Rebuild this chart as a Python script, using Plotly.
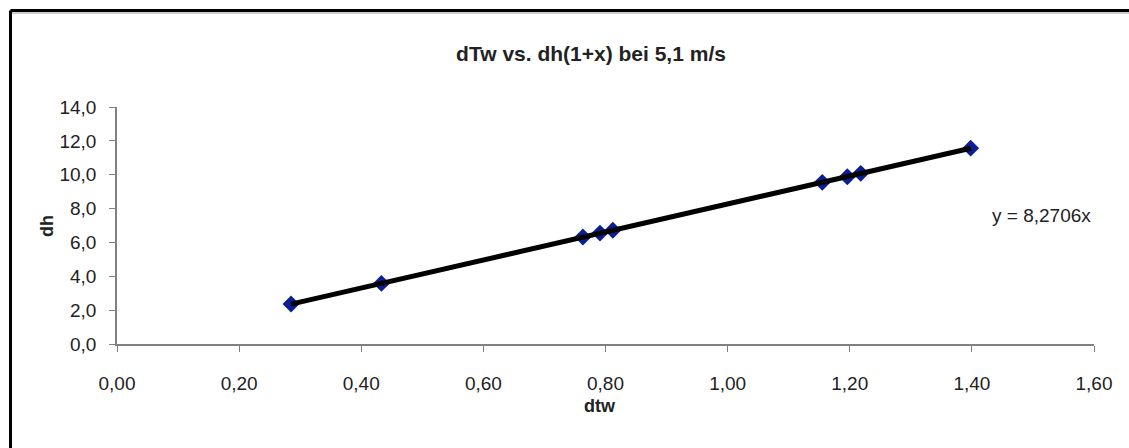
import plotly.graph_objects as go

# data
dtw = [0.285, 0.433, 0.763, 0.791, 0.812, 1.155, 1.196, 1.218, 1.398]
dh = [2.36, 3.58, 6.32, 6.55, 6.72, 9.55, 9.88, 10.08, 11.57]
slope = 8.2706
x_ticks = [0.0, 0.2, 0.4, 0.6, 0.8, 1.0, 1.2, 1.4, 1.6]
y_ticks = [0, 2, 4, 6, 8, 10, 12, 14]

W, H = 1129, 448
L, R, T, B = 117, 35, 107, 104
pw, ph = W - L - R, H - T - B

def px(x):
    return (x - L) / pw

def py(y):
    return (H - B - y) / ph

FONT = "Liberation Sans, Arial, sans-serif"

fig = go.Figure()
fig.add_trace(go.Scatter(
    x=dtw, y=dh, mode="markers",
    marker=dict(symbol="diamond", size=13, color="#0A1E96"),
    showlegend=False, cliponaxis=False))
xmin, xmax = min(dtw), max(dtw)
fig.add_trace(go.Scatter(
    x=[xmin, xmax], y=[slope * xmin, slope * xmax], mode="lines",
    line=dict(color="black", width=5), showlegend=False))

fig.add_annotation(x=px(1041), y=py(215), xref="paper", yref="paper",
                   xanchor="center", yanchor="middle",
                   text="y = 8,2706x", showarrow=False,
                   font=dict(family=FONT, size=19, color="#222222"))

# axis titles as annotations for exact placement
fig.add_annotation(x=px(600), y=py(406), xref="paper", yref="paper",
                   xanchor="center", yanchor="middle",
                   text="<b>dtw</b>", showarrow=False,
                   font=dict(family=FONT, size=18, color="#222222"))
fig.add_annotation(x=px(47), y=py(226), xref="paper", yref="paper",
                   xanchor="center", yanchor="middle",
                   text="<b>dh</b>", showarrow=False, textangle=-90,
                   font=dict(family=FONT, size=18, color="#222222"))

# outer frame
fig.add_shape(type="line", xref="paper", yref="paper",
              x0=px(10.5), x1=px(W + 20), y0=py(10.5), y1=py(10.5),
              line=dict(color="black", width=3))
fig.add_shape(type="line", xref="paper", yref="paper",
              x0=px(12), x1=px(W + 20), y0=py(13), y1=py(13),
              line=dict(color="#9a9a9a", width=1))
fig.add_shape(type="line", xref="paper", yref="paper",
              x0=px(10.5), x1=px(10.5), y0=py(10.5), y1=py(H + 20),
              line=dict(color="black", width=3))

fig.update_layout(
    width=W, height=H,
    margin=dict(l=L, r=R, t=T, b=B),
    paper_bgcolor="white", plot_bgcolor="white",
    separators=",.",
    font=dict(family=FONT, size=19, color="#222222"),
    title=dict(text="<b>dTw vs. dh(1+x) bei 5,1 m/s</b>",
               xref="container", yref="container",
               x=591 / W, xanchor="center",
               y=1 - 54 / H, yanchor="middle",
               font=dict(family=FONT, size=21, color="#222222")),
    xaxis=dict(range=[0, 1.6], tickvals=x_ticks, tickformat=".2f",
               showgrid=False, zeroline=False, showline=True, linecolor="#808080",
               linewidth=1.5, ticks="outside", ticklen=6, tickcolor="#808080",
               tickfont=dict(size=19), ticklabelstandoff=15),
    yaxis=dict(range=[0, 14], tickvals=y_ticks, tickformat=".1f",
               showgrid=False, zeroline=False, showline=True, linecolor="#808080",
               linewidth=1.5, ticks="outside", ticklen=6, tickcolor="#808080",
               tickfont=dict(size=19), ticklabelstandoff=9),
)

fig.write_html("out.html")
